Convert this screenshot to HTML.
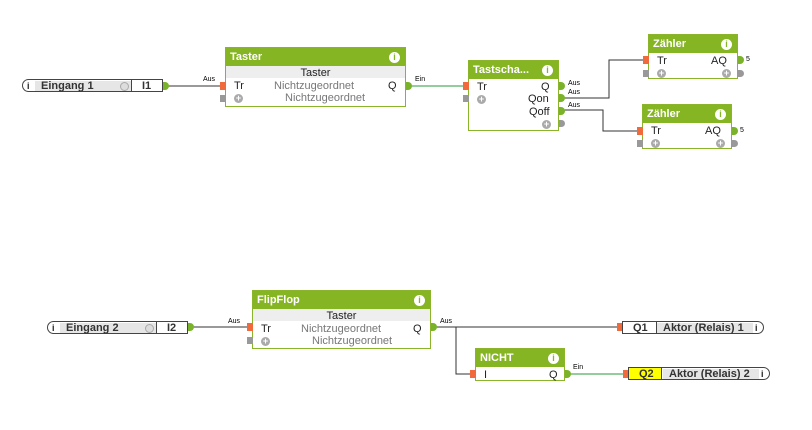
<!DOCTYPE html><html><head><style>
body{margin:0;width:812px;height:430px;background:#fff;position:relative;overflow:hidden;font-family:"Liberation Sans",sans-serif;}
.a{position:absolute}
.blk{position:absolute;border:1px solid #8ab52a;background:#fff;box-sizing:border-box}
.hd{position:absolute;left:0;top:0;right:0;height:18px;background:#86b523;color:#fff;font-weight:bold;font-size:11px;line-height:18px;padding-left:4px}
.inf{position:absolute;right:5px;top:4px;width:11px;height:11px;border-radius:50%;background:#fff;color:#86b523;font-size:9px;font-weight:bold;text-align:center;line-height:11px}
.t{position:absolute;font-size:11px;color:#222;line-height:12px;white-space:nowrap}
.g{color:#777}
.pl{position:absolute;width:9px;height:9px;border-radius:50%;background:#aaa;color:#fff;font-size:9px;line-height:9px;text-align:center;font-weight:bold}
.in{position:absolute;width:6px;height:8px;background:#f06a3c}
.ing{position:absolute;width:6px;height:7px;background:#999}
.od{position:absolute;width:6px;height:8px;border-radius:0 4px 4px 0;background:#7ab22a}
.odg{position:absolute;width:6px;height:7px;border-radius:0 4px 4px 0;background:#999}
.s{position:absolute;font-size:7px;color:#000}
.io{position:absolute;height:13px;border:1px solid #444;border-radius:7px 0 0 7px;box-sizing:border-box;background:#fff}
</style></head><body>
<svg class="a" style="left:0;top:0" width="812" height="430">
<g fill="none" stroke-width="1">
<path d="M167 86H222" stroke="#333"/>
<path d="M410 86H466" stroke="#2a9a3a"/>
<path d="M563 98H609V60H643" stroke="#333"/>
<path d="M563 110H603V131H637" stroke="#333"/>
<path d="M192 327H249" stroke="#333"/>
<path d="M435 327H617" stroke="#333"/>
<path d="M456 327V374H470" stroke="#333"/>
<path d="M569 374H623" stroke="#2a9a3a"/>
</g></svg>

<!-- Eingang 1 -->
<div class="io" style="left:22px;top:79px;width:141px;border-radius:7px 0 0 7px;">
 <div class="t" style="left:4px;top:0;font-size:9px;font-weight:bold">i</div>
 <div class="a" style="left:12px;top:1px;width:96px;height:10px;background:#e6e6e6"></div>
 <div class="t" style="left:18px;top:0;font-weight:bold;color:#333">Eingang 1</div>
 <div class="a" style="left:97px;top:2px;width:7px;height:7px;border-radius:50%;border:1px solid #aaa;background:#ddd"></div>
 <div class="a" style="left:108px;top:0;width:1px;height:11px;background:#444"></div>
 <div class="t" style="left:119px;top:0;font-weight:bold;color:#333">I1</div>
</div>
<div class="od" style="left:163px;top:82px"></div>
<div class="s" style="left:203px;top:76px">Aus</div>

<!-- Taster -->
<div class="blk" style="left:225px;top:47px;width:181px;height:60px">
 <div class="hd">Taster<div class="inf">i</div></div>
 <div class="a" style="left:0;right:0;top:18px;height:12px;background:#eee"></div>
 <div class="t" style="left:0;right:0;top:19px;text-align:center">Taster</div>
 <div class="t" style="left:8px;top:32px">Tr</div>
 <div class="t g" style="left:48px;top:32px">Nichtzugeordnet</div>
 <div class="t" style="left:162px;top:32px">Q</div>
 <div class="pl" style="left:8px;top:46px">+</div>
 <div class="t g" style="left:59px;top:44px">Nichtzugeordnet</div>
</div>
<div class="in" style="left:220px;top:82px"></div><div class="ing" style="left:220px;top:95px"></div>
<div class="od" style="left:406px;top:82px"></div>
<div class="s" style="left:415px;top:76px">Ein</div>

<!-- Tastschalter -->
<div class="blk" style="left:468px;top:60px;width:91px;height:71px">
 <div class="hd">Tastscha...<div class="inf">i</div></div>
 <div class="t" style="left:8px;top:20px">Tr</div>
 <div class="t" style="left:72px;top:20px">Q</div>
 <div class="t" style="left:59px;top:32px">Qon</div>
 <div class="t" style="left:60px;top:45px">Qoff</div>
 <div class="pl" style="left:8px;top:34px">+</div>
 <div class="pl" style="left:73px;top:59px">+</div>
</div>
<div class="in" style="left:463px;top:82px"></div><div class="ing" style="left:463px;top:95px"></div>
<div class="od" style="left:559px;top:82px"></div><div class="od" style="left:559px;top:94px"></div><div class="od" style="left:559px;top:107px"></div><div class="odg" style="left:559px;top:120px"></div>
<div class="s" style="left:568px;top:80px">Aus</div><div class="s" style="left:568px;top:89px">Aus</div><div class="s" style="left:568px;top:102px">Aus</div>

<!-- Zähler 1 -->
<div class="blk" style="left:648px;top:34px;width:90px;height:45px">
 <div class="hd">Zähler<div class="inf">i</div></div>
 <div class="t" style="left:8px;top:20px">Tr</div>
 <div class="t" style="left:62px;top:20px">AQ</div>
 <div class="pl" style="left:8px;top:34px">+</div>
 <div class="pl" style="left:73px;top:34px">+</div>
</div>
<div class="in" style="left:643px;top:56px"></div><div class="ing" style="left:643px;top:70px"></div>
<div class="od" style="left:738px;top:56px"></div><div class="odg" style="left:738px;top:70px"></div>
<div class="s" style="left:746px;top:56px">5</div>

<!-- Zähler 2 -->
<div class="blk" style="left:642px;top:104px;width:90px;height:45px">
 <div class="hd">Zähler<div class="inf">i</div></div>
 <div class="t" style="left:8px;top:20px">Tr</div>
 <div class="t" style="left:62px;top:20px">AQ</div>
 <div class="pl" style="left:8px;top:34px">+</div>
 <div class="pl" style="left:73px;top:34px">+</div>
</div>
<div class="in" style="left:637px;top:127px"></div><div class="ing" style="left:637px;top:140px"></div>
<div class="od" style="left:732px;top:127px"></div><div class="odg" style="left:732px;top:140px"></div>
<div class="s" style="left:740px;top:127px">5</div>

<!-- Eingang 2 -->
<div class="io" style="left:47px;top:321px;width:141px;">
 <div class="t" style="left:4px;top:0;font-size:9px;font-weight:bold">i</div>
 <div class="a" style="left:12px;top:1px;width:96px;height:10px;background:#e6e6e6"></div>
 <div class="t" style="left:18px;top:0;font-weight:bold;color:#333">Eingang 2</div>
 <div class="a" style="left:97px;top:2px;width:7px;height:7px;border-radius:50%;border:1px solid #aaa;background:#ddd"></div>
 <div class="a" style="left:108px;top:0;width:1px;height:11px;background:#444"></div>
 <div class="t" style="left:119px;top:0;font-weight:bold;color:#333">I2</div>
</div>
<div class="od" style="left:188px;top:323px"></div>
<div class="s" style="left:228px;top:318px">Aus</div>

<!-- FlipFlop -->
<div class="blk" style="left:252px;top:290px;width:179px;height:59px">
 <div class="hd">FlipFlop<div class="inf">i</div></div>
 <div class="a" style="left:0;right:0;top:18px;height:12px;background:#eee"></div>
 <div class="t" style="left:0;right:0;top:19px;text-align:center">Taster</div>
 <div class="t" style="left:8px;top:32px">Tr</div>
 <div class="t g" style="left:48px;top:32px">Nichtzugeordnet</div>
 <div class="t" style="left:160px;top:32px">Q</div>
 <div class="pl" style="left:8px;top:46px">+</div>
 <div class="t g" style="left:59px;top:44px">Nichtzugeordnet</div>
</div>
<div class="in" style="left:247px;top:323px"></div><div class="ing" style="left:247px;top:337px"></div>
<div class="od" style="left:431px;top:323px"></div>
<div class="s" style="left:440px;top:318px">Aus</div>

<!-- Q1 -->
<div class="in" style="left:617px;top:323px"></div>
<div class="io" style="left:622px;top:321px;width:142px;border-radius:0 7px 7px 0">
 <div class="t" style="left:10px;top:0;font-weight:bold;color:#333">Q1</div>
 <div class="a" style="left:33px;top:0;width:1px;height:11px;background:#444"></div>
 <div class="a" style="left:34px;top:1px;width:96px;height:10px;background:#e6e6e6"></div>
 <div class="t" style="left:40px;top:0;font-weight:bold;color:#333">Aktor (Relais) 1</div>
 <div class="t" style="left:132px;top:0;font-size:9px;font-weight:bold">i</div>
</div>

<!-- NICHT -->
<div class="blk" style="left:475px;top:348px;width:90px;height:33px">
 <div class="hd">NICHT<div class="inf">i</div></div>
 <div class="t" style="left:8px;top:20px">I</div>
 <div class="t" style="left:73px;top:20px">Q</div>
</div>
<div class="in" style="left:470px;top:370px"></div>
<div class="od" style="left:565px;top:370px"></div>
<div class="s" style="left:573px;top:364px">Ein</div>

<!-- Q2 -->
<div class="in" style="left:623px;top:370px"></div>
<div class="io" style="left:628px;top:367px;width:142px;border-radius:0 7px 7px 0">
 <div class="a" style="left:0;top:0;width:32px;height:11px;background:#ffff00"></div>
 <div class="t" style="left:10px;top:0;font-weight:bold;color:#333">Q2</div>
 <div class="a" style="left:32px;top:0;width:1px;height:11px;background:#444"></div>
 <div class="a" style="left:34px;top:1px;width:96px;height:10px;background:#e6e6e6"></div>
 <div class="t" style="left:40px;top:0;font-weight:bold;color:#333">Aktor (Relais) 2</div>
 <div class="t" style="left:132px;top:0;font-size:9px;font-weight:bold">i</div>
</div>
</body></html>
